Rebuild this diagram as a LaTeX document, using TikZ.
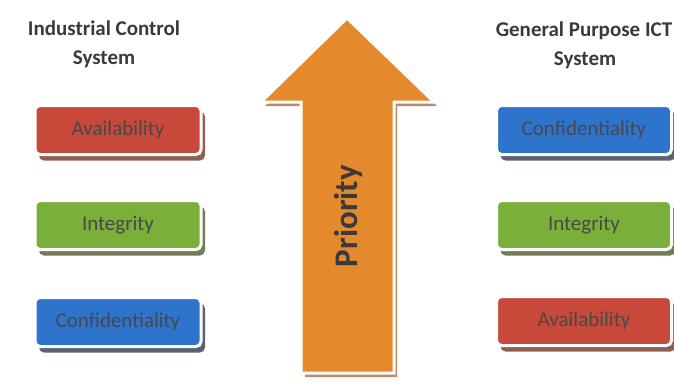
\documentclass[tikz,border=0pt]{standalone}
\usepackage{fontspec}
\setmainfont{Carlito}
\usetikzlibrary{shadows}
\definecolor{redc}{HTML}{C8493A}
\definecolor{redsh}{HTML}{8E5F52}
\definecolor{greenc}{HTML}{7AB03A}
\definecolor{greensh}{HTML}{707E58}
\definecolor{bluec}{HTML}{2F74CC}
\definecolor{bluesh}{HTML}{5A6278}
\definecolor{orangec}{HTML}{E4892C}
\definecolor{orangesh}{HTML}{B98A6C}
\definecolor{txt}{HTML}{3A3A3A}
\definecolor{boxtxt}{HTML}{484848}
\definecolor{rimc}{HTML}{E4E4E4}
\tikzset{
  cbox/.style={rounded corners=5pt, minimum height=49pt, draw=white, line width=3pt,
    text=boxtxt, font=\fontsize{21}{24}\selectfont, inner sep=0pt},
  lbox/.style={cbox, minimum width=166pt},
  rbox/.style={cbox, minimum width=175pt},
  shred/.style={drop shadow={shadow xshift=4pt, shadow yshift=-6pt, fill=redsh, opacity=1}},
  shgreen/.style={drop shadow={shadow xshift=4pt, shadow yshift=-6pt, fill=greensh, opacity=1}},
  shblue/.style={drop shadow={shadow xshift=4pt, shadow yshift=-6pt, fill=bluesh, opacity=1}},
  title/.style={font=\fontsize{21}{24}\selectfont\bfseries, text=txt, anchor=base, inner sep=0pt},
}
\begin{document}
\begin{tikzpicture}[x=1pt, y=-1pt]
\useasboundingbox (0,0) rectangle (674,388);
% titles
\node[title] (lt1) at (104,35) {Industrial Control};
\node[title] (lt2) at (104,64) {System};
\node[title] (rt1) at (584,36) {General Purpose ICT};
\node[title] (rt2) at (585,65) {System};
% arrow
\fill[orangesh] (350,22) -- (437,106) -- (397,106) -- (397,377) -- (305,377) -- (305,106) -- (265,106) -- cycle;
\filldraw[fill=orangec, draw=white, line width=3pt, line join=miter]
  (347,18) -- (434,102) -- (394,102) -- (394,373) -- (301,373) -- (301,102) -- (261,102) -- cycle;
\node[rotate=90, anchor=base, font=\fontsize{33}{36}\selectfont\bfseries, text=txt, inner sep=0pt] (prio) at (357,216) {Priority};
% left boxes
\node[lbox, fill=redc, shred] (la) at (118,130) {Availability};
\node[lbox, fill=greenc, shgreen] (li) at (118,225) {Integrity};
\node[lbox, fill=bluec, shblue] (lc) at (118,322) {Confidentiality};
% right boxes
\node[rbox, fill=bluec, shblue] (rc) at (584,130) {Confidentiality};
\node[rbox, fill=greenc, shgreen] (ri) at (584,225) {Integrity};
\node[rbox, fill=redc, shred] (ra) at (584,321) {Availability};
\end{tikzpicture}
\end{document}
